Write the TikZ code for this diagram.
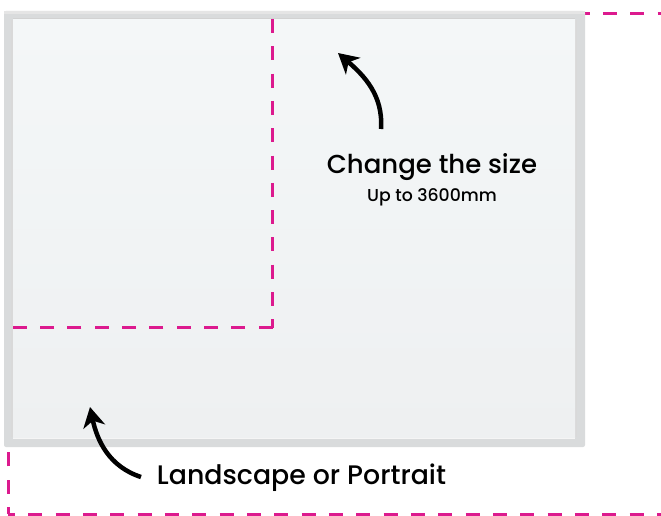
\documentclass[tikz,border=0pt]{standalone}
\usepackage{fontspec}
\setmainfont{Poppins}
\newfontfamily\medfont{Poppins Medium}
\usetikzlibrary{arrows.meta}

\definecolor{pinkdash}{HTML}{DC1A8E}
\definecolor{framegray}{HTML}{D9DBDC}
\definecolor{facetop}{HTML}{F4F7F8}
\definecolor{facebot}{HTML}{EEF0F1}

\tikzset{
	sizedash/.style={pinkdash, line width=3pt, dash pattern=on 14pt off 13.3pt},
	outerdash/.style={pinkdash, line width=3pt, dash pattern=on 14pt off 13.33pt},
	bigarrow/.style={line width=4.5pt, black, -{Stealth[length=20pt,width=22pt,inset=6pt]}},
	bigtext/.style={font=\medfont\fontsize{26}{30}\selectfont, text=black, inner sep=0pt, anchor=base},
	smalltext/.style={font=\medfont\fontsize{17.3}{20}\selectfont, text=black, inner sep=0pt, anchor=base}
}

\begin{document}
\begin{tikzpicture}[x=1pt,y=1pt]
	\useasboundingbox (0,0) rectangle (661,-516);
	\clip (0,0) rectangle (661,-516);
	\fill[white] (0,0) rectangle (661,-516);

	% outer dashed outline (behind the board)
	\coordinate (bl) at (8,-514);
	\draw[outerdash, dash phase=7pt] (bl) -- (8,-14);
	\draw[outerdash, dash phase=7pt] (bl) -- (700,-514);
	\draw[outerdash, dash phase=6.3pt] (8,-14) -- (700,-14);

	% the board
	\fill[framegray, rounded corners=2pt] (4,-11) rectangle (585,-447);
	\fill[gray!20] (4,-11) rectangle (585,-14);
	\fill[gray!35] (13,-18) rectangle (575,-20);
	\fill[gray!30] (11,-20) rectangle (13,-437);
	\fill[gray!30] (575,-20) rectangle (577,-437);
	\fill[gray!8] (13,-437) rectangle (575,-439);
	\shade[top color=facetop, bottom color=facebot] (13,-20) rectangle (575,-437);

	% inner dashed outline
	\coordinate (corner) at (272.5,-327.5);
	\draw[sizedash] (272.5,-19) -- (corner);
	\draw[sizedash] (corner) -- (13,-327.5);

	% labels
	\node[bigtext] (size) at (432,-173) {Change the size};
	\node[smalltext] (upto) at (432,-201) {Up to 3600mm};
	\node[bigtext, font=\medfont\fontsize{26.8}{30}\selectfont] (orient) at (301.5,-484) {Landscape or Portrait};

	% arrows
	\coordinate (sizetail) at (381,-129);
	\coordinate (sizetip) at (338,-53);
	\draw[bigarrow] (sizetail) to[out=86,in=-41] (sizetip);
	\coordinate (orienttail) at (141,-477);
	\coordinate (orienttip) at (90,-407);
	\draw[bigarrow] (orienttail) to[out=162,in=-78] (orienttip);
\end{tikzpicture}
\end{document}
